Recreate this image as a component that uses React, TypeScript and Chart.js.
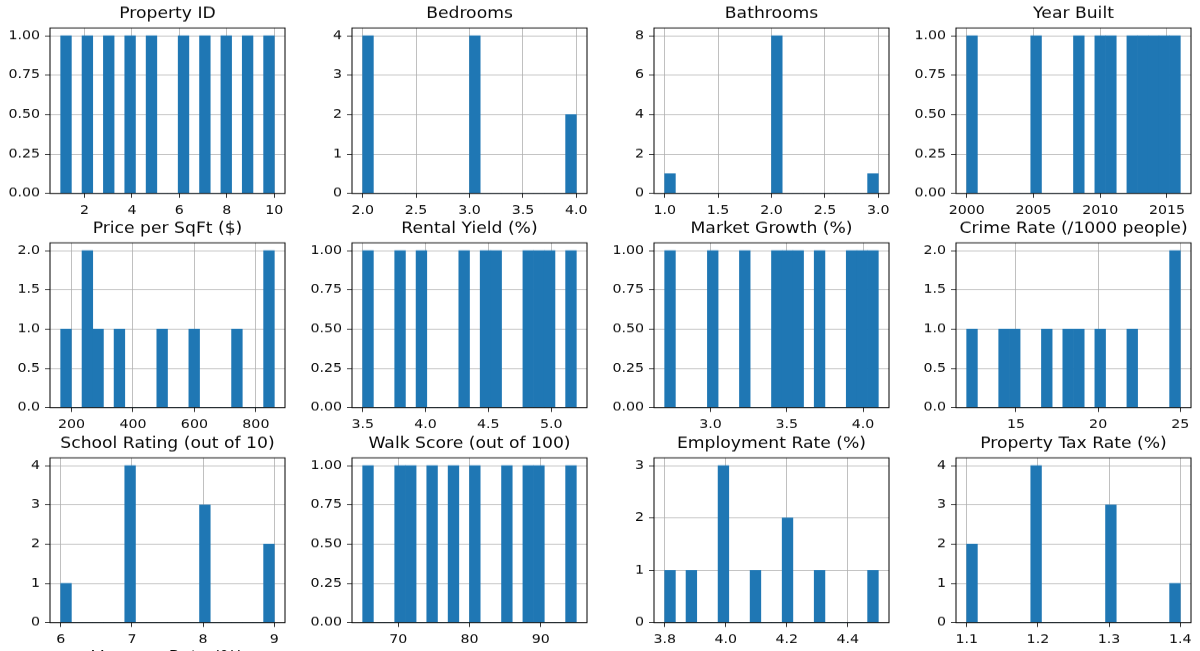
import React, { useEffect, useRef } from "react";
import { Chart, registerables } from "chart.js";

Chart.register(...registerables);

// ---------------- data: one array per column (10 properties) ----------------
const propertyId = [1, 2, 3, 4, 5, 6, 7, 8, 9, 10];
const bedrooms = [3, 2, 4, 3, 2, 3, 4, 2, 3, 2];
const bathrooms = [2, 1, 2, 2, 2, 3, 2, 2, 2, 2];
const yearBuilt = [2010, 2005, 2015, 2012, 2000, 2008, 2016, 2011, 2014, 2013];
const pricePerSqft = [240, 165, 850, 280, 600, 350, 860, 490, 740, 250];
const rentalYield = [4.5, 5.2, 3.5, 4.8, 4.0, 4.9, 3.8, 4.3, 5.0, 4.6];
const marketGrowth = [3.5, 2.7, 4.0, 3.2, 3.7, 3.0, 4.1, 3.4, 3.9, 3.6];
const crimeRate = [15, 22, 12, 18, 25, 14, 20, 17, 25, 19];
const schoolRating = [8, 7, 9, 7, 6, 8, 9, 7, 8, 7];
const walkScore = [80, 72, 88, 75, 65, 90, 70, 85, 95, 78];
const employmentRate = [4.0, 4.2, 3.8, 4.0, 4.3, 3.9, 4.5, 4.1, 4.0, 4.2];
const propertyTaxRate = [1.2, 1.3, 1.1, 1.2, 1.4, 1.3, 1.1, 1.2, 1.3, 1.2];

// ---------------- tick labels ----------------
const propertyIdTicks = [2, 4, 6, 8, 10];
const bedroomsTicks = [2.0, 2.5, 3.0, 3.5, 4.0];
const bathroomsTicks = [1.0, 1.5, 2.0, 2.5, 3.0];
const yearBuiltTicks = [2000, 2005, 2010, 2015];
const priceTicks = [200, 400, 600, 800];
const rentalTicks = [3.5, 4.0, 4.5, 5.0];
const growthTicks = [3.0, 3.5, 4.0];
const crimeTicks = [15, 20, 25];
const schoolTicks = [6, 7, 8, 9];
const walkTicks = [70, 80, 90];
const employmentTicks = [3.8, 4.0, 4.2, 4.4];
const taxTicks = [1.1, 1.2, 1.3, 1.4];

const countTicksQuarter = [0, 0.25, 0.5, 0.75, 1.0];
const countTicksHalf = [0, 0.5, 1.0, 1.5, 2.0];
const countTicks3 = [0, 1, 2, 3];
const countTicks4 = [0, 1, 2, 3, 4];
const countTicks8 = [0, 2, 4, 6, 8];

const cutOffTitle = "Vacancy Rate (%)";

type Panel = {
  title: string;
  values: number[];
  xTicks: number[];
  xDec: number;
  yTicks: number[];
  yDec: number;
};

const panels: Panel[] = [
  { title: "Property ID", values: propertyId, xTicks: propertyIdTicks, xDec: 0, yTicks: countTicksQuarter, yDec: 2 },
  { title: "Bedrooms", values: bedrooms, xTicks: bedroomsTicks, xDec: 1, yTicks: countTicks4, yDec: 0 },
  { title: "Bathrooms", values: bathrooms, xTicks: bathroomsTicks, xDec: 1, yTicks: countTicks8, yDec: 0 },
  { title: "Year Built", values: yearBuilt, xTicks: yearBuiltTicks, xDec: 0, yTicks: countTicksQuarter, yDec: 2 },
  { title: "Price per SqFt ($)", values: pricePerSqft, xTicks: priceTicks, xDec: 0, yTicks: countTicksHalf, yDec: 1 },
  { title: "Rental Yield (%)", values: rentalYield, xTicks: rentalTicks, xDec: 1, yTicks: countTicksQuarter, yDec: 2 },
  { title: "Market Growth (%)", values: marketGrowth, xTicks: growthTicks, xDec: 1, yTicks: countTicksQuarter, yDec: 2 },
  { title: "Crime Rate (/1000 people)", values: crimeRate, xTicks: crimeTicks, xDec: 0, yTicks: countTicksHalf, yDec: 1 },
  { title: "School Rating (out of 10)", values: schoolRating, xTicks: schoolTicks, xDec: 0, yTicks: countTicks4, yDec: 0 },
  { title: "Walk Score (out of 100)", values: walkScore, xTicks: walkTicks, xDec: 0, yTicks: countTicksQuarter, yDec: 2 },
  { title: "Employment Rate (%)", values: employmentRate, xTicks: employmentTicks, xDec: 1, yTicks: countTicks3, yDec: 0 },
  { title: "Property Tax Rate (%)", values: propertyTaxRate, xTicks: taxTicks, xDec: 1, yTicks: countTicks4, yDec: 0 },
];

// ---------------- layout / style ----------------
const BINS = 20;
const SY = 0.88; // the reference is squashed vertically
const COL_LEFT = [50, 352, 654, 956];
const ROW_TOP = [28.3, 243, 457.7];
const AX_W = 235;
const AX_H = 165;
const Y_AXIS_W = 50;
const PAD_R = 14;
const FONT = "'DejaVu Sans', sans-serif";
const TICK_SIZE = 14.2;
const TITLE_SIZE = 17.2;
const TITLE_LH = TITLE_SIZE * 1.2;
const TITLE_GAP_CSS = 14;
const TITLE_PT = 2;
const TITLE_PB = TITLE_GAP_CSS / SY - TITLE_LH / 2;
const TH = TITLE_PT + TITLE_LH + TITLE_PB;
const AH_L = AX_H / SY;
const CANVAS_W = Y_AXIS_W + AX_W + PAD_R;
const CANVAS_H = Math.round(TH + AH_L + 40);
const X_AXIS_H = CANVAS_H - TH - AH_L;
const BAR = "#1f77b4";
const GRID = "#b0b0b0";
const INK = "#0a0a0a";

function histogram(values: number[]) {
  const lo = Math.min(...values);
  const hi = Math.max(...values);
  const w = (hi - lo) / BINS;
  const counts = new Array(BINS).fill(0);
  for (const v of values) {
    let i = Math.floor(((v - lo) / (hi - lo)) * BINS + 1e-9);
    if (i >= BINS) i = BINS - 1;
    counts[i] += 1;
  }
  return { lo, hi, w, counts };
}

const framePlugin = {
  id: "frame",
  afterDraw(chart: any) {
    const { ctx, chartArea: a } = chart;
    ctx.save();
    ctx.strokeStyle = "#000";
    ctx.lineWidth = 1;
    ctx.strokeRect(a.left, a.top, a.right - a.left, a.bottom - a.top);
    ctx.restore();
  },
};

function HistPanel({ panel, row, col }: { panel: Panel; row: number; col: number }) {
  const ref = useRef<HTMLCanvasElement>(null);
  useEffect(() => {
    const { lo, hi, w, counts } = histogram(panel.values);
    const span = hi - lo;
    const yMax = Math.max(...counts) * 1.05;
    const tickFont = { family: FONT, size: TICK_SIZE };
    const chart = new Chart(ref.current!, {
      type: "bar",
      data: {
        datasets: [
          {
            data: counts.map((c, i) => ({ x: lo + (i + 0.5) * w, y: c })),
            backgroundColor: BAR,
            borderWidth: 0,
            barPercentage: 1,
            categoryPercentage: 1,
          },
        ],
      },
      options: {
        responsive: false,
        animation: false,
        devicePixelRatio: 1,
        layout: { padding: { left: 0, right: PAD_R, top: 0, bottom: 0 } },
        plugins: {
          legend: { display: false },
          tooltip: { enabled: false },
          title: {
            display: true,
            text: panel.title,
            fullSize: false,
            color: INK,
            font: { family: FONT, size: TITLE_SIZE, weight: "normal", lineHeight: 1.2 },
            padding: { top: TITLE_PT, bottom: TITLE_PB },
          },
        },
        scales: {
          x: {
            type: "linear",
            min: lo - 0.05 * span,
            max: hi + 0.05 * span,
            offset: false,
            z: 1,
            border: { display: false },
            grid: { color: GRID, lineWidth: 0.8, drawTicks: true, tickLength: 5, tickColor: "#000", tickWidth: 0.8, offset: false },
            ticks: {
              font: tickFont,
              color: INK,
              padding: 6,
              autoSkip: false,
              maxRotation: 0,
              minRotation: 0,
              callback: (v: any) => Number(v).toFixed(panel.xDec),
            },
            afterBuildTicks: (s: any) => {
              s.ticks = panel.xTicks.map((v) => ({ value: v }));
            },
            afterFit: (s: any) => {
              s.height = X_AXIS_H;
            },
          },
          y: {
            type: "linear",
            min: 0,
            max: yMax,
            z: 1,
            border: { display: false },
            grid: { color: GRID, lineWidth: 0.8, drawTicks: true, tickLength: 5, tickColor: "#000", tickWidth: 0.8 },
            ticks: {
              font: tickFont,
              color: INK,
              padding: 5,
              autoSkip: false,
              callback: (v: any) => Number(v).toFixed(panel.yDec),
            },
            afterBuildTicks: (s: any) => {
              s.ticks = panel.yTicks.map((v) => ({ value: v }));
            },
            afterFit: (s: any) => {
              s.width = Y_AXIS_W;
            },
          },
        },
      },
      plugins: [framePlugin],
    } as any);
    return () => chart.destroy();
  }, [panel]);

  return (
    <canvas
      ref={ref}
      width={CANVAS_W}
      height={CANVAS_H}
      style={{
        position: "absolute",
        left: COL_LEFT[col] - Y_AXIS_W,
        top: ROW_TOP[row] - TH * SY,
        width: CANVAS_W,
        height: CANVAS_H * SY,
      }}
    />
  );
}

export default function App() {
  const rowStep = (ROW_TOP[2] - ROW_TOP[0]) / 2;
  return (
    <div
      style={{
        position: "fixed",
        left: 0,
        top: 0,
        width: 1200,
        height: 651,
        overflow: "hidden",
        background: "#fff",
      }}
    >
      {panels.map((p, i) => (
        <HistPanel key={p.title} panel={p} row={Math.floor(i / 4)} col={i % 4} />
      ))}
      <div
        style={{
          position: "absolute",
          left: COL_LEFT[0] + AX_W / 2,
          top: ROW_TOP[0] + 3 * rowStep - TITLE_GAP_CSS - 1,
          transform: `translate(-50%, -50%) scaleY(${SY})`,
          fontFamily: FONT,
          fontSize: TITLE_SIZE,
          lineHeight: 1,
          color: INK,
          whiteSpace: "nowrap",
        }}
      >
        {cutOffTitle}
      </div>
    </div>
  );
}
